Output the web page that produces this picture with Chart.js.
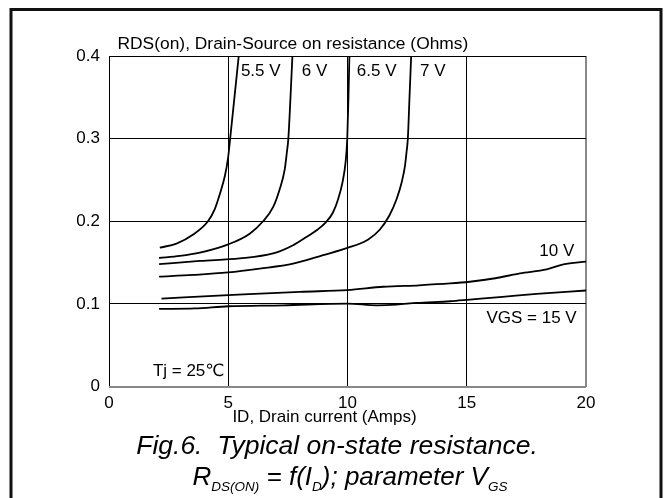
<!DOCTYPE html>
<html><head><meta charset="utf-8">
<script src="https://cdn.jsdelivr.net/npm/chart.js@4.4.1/dist/chart.umd.min.js"></script>
<style>html,body{margin:0;padding:0;background:#fff;}canvas{display:block;}</style>
</head><body>
<canvas id="c" width="665" height="498"></canvas>
<script>
// ---- data ----
const xTicks = [0, 5, 10, 15, 20];
const yTicks = [0, 0.1, 0.2, 0.3, 0.4];

const id_5v5 = [2.13, 2.83, 3.53, 4.15, 4.44, 4.67, 4.86, 4.99, 5.08, 5.26, 5.44];
const rds_5v5 = [0.168, 0.173, 0.184, 0.200, 0.215, 0.235, 0.255, 0.276, 0.300, 0.350, 0.400];

const id_6v = [2.10, 2.97, 3.81, 5.00, 5.90, 6.46, 6.88, 7.16, 7.37, 7.46, 7.52, 7.61, 7.69];
const rds_6v = [0.1555, 0.158, 0.162, 0.172, 0.185, 0.200, 0.217, 0.239, 0.263, 0.284, 0.300, 0.350, 0.400];

const id_6v5 = [2.10, 3.81, 5.48, 6.88, 7.72, 8.28, 8.75, 9.10, 9.38, 9.61, 9.79, 9.92, 9.99, 10.04, 10.08];
const rds_6v5 = [0.148, 0.152, 0.155, 0.161, 0.171, 0.181, 0.190, 0.199, 0.210, 0.227, 0.247, 0.2715, 0.300, 0.350, 0.400];

const id_7v = [2.10, 3.53, 5.00, 6.32, 7.72, 8.98, 10.00, 10.87, 11.36, 11.75, 12.06, 12.27, 12.41, 12.48, 12.53, 12.60, 12.67];
const rds_7v = [0.133, 0.135, 0.138, 0.1426, 0.1486, 0.159, 0.1677, 0.178, 0.190, 0.2066, 0.227, 0.247, 0.267, 0.285, 0.300, 0.350, 0.400];

const id_10v = [2.20, 5.00, 8.00, 10.00, 11.50, 13.00, 14.30, 15.13, 16.20, 17.23, 18.35, 19.05, 20.00];
const rds_10v = [0.1064, 0.1105, 0.1146, 0.1166, 0.1207, 0.1225, 0.1247, 0.1268, 0.131, 0.1369, 0.1417, 0.1478, 0.1511];

const id_15v = [2.10, 3.60, 5.00, 7.30, 10.00, 11.22, 12.06, 12.90, 14.30, 15.13, 16.50, 17.93, 20.00];
const rds_15v = [0.0939, 0.0945, 0.0971, 0.0983, 0.1004, 0.0983, 0.0991, 0.1012, 0.1032, 0.1052, 0.1085, 0.1121, 0.1162];

const curveNames = ['5.5 V', '6 V', '6.5 V', '7 V', '10 V', 'VGS = 15 V'];
const curveX = [id_5v5, id_6v, id_6v5, id_7v, id_10v, id_15v];
const curveY = [rds_5v5, rds_6v, rds_6v5, rds_7v, rds_10v, rds_15v];

// labels placed in data coordinates
const labelText = ['5.5 V', '6 V', '6.5 V', '7 V', '10 V', 'VGS = 15 V', 'Tj = 25\u2103'];
const labelX = [5.53, 8.08, 10.39, 13.04, 19.51, 19.61, 1.84];
const labelY = [0.383, 0.383, 0.383, 0.383, 0.165, 0.0837, 0.0201];
const labelAlign = ['left', 'left', 'left', 'left', 'right', 'right', 'left'];

const yTitle = 'RDS(on), Drain-Source on resistance (Ohms)';
const xTitle = 'ID, Drain current (Amps)';
const caption1 = 'Fig.6.  Typical on-state resistance.';

// ---- chart ----
const FONT = "'Liberation Sans', Arial, 'DejaVu Sans', 'Noto Sans CJK SC', sans-serif";

const datasets = curveNames.map((n, i) => ({
  label: n,
  data: curveX[i].map((x, j) => ({x: x, y: curveY[i][j]})),
  borderColor: '#000',
  borderWidth: 1.8,
  pointRadius: 0,
  fill: false,
  cubicInterpolationMode: 'monotone'
}));

const decor = {
  id: 'decor',
  beforeDraw(chart) {
    const c = chart.ctx;
    c.save();
    c.fillStyle = '#fff';
    c.fillRect(0, 0, chart.width, chart.height);
    c.restore();
  },
  afterDraw(chart) {
    const c = chart.ctx, xs = chart.scales.x, ys = chart.scales.y, a = chart.chartArea;
    c.save();
    // outer frame
    c.strokeStyle = '#111';
    c.lineWidth = 3;
    c.strokeRect(11, 9.5, 650, 520);

    c.fillStyle = '#000';
    c.font = '17px ' + FONT;
    c.textBaseline = 'alphabetic';
    // curve labels
    for (let i = 0; i < labelText.length; i++) {
      c.textAlign = labelAlign[i];
      c.fillText(labelText[i], xs.getPixelForValue(labelX[i]), ys.getPixelForValue(labelY[i]) + 6);
    }
    // axis titles
    c.textAlign = 'center';
    c.fillText(xTitle, a.left + 215.5, a.bottom + 35.5);
    c.font = '17.4px ' + FONT;
    c.textAlign = 'left';
    c.fillText(yTitle, a.left + 8.5, a.top - 7);

    // caption
    c.font = 'italic 26.5px ' + FONT;
    c.textAlign = 'center';
    c.fillText(caption1, 337, 454);

    const big = 26, small = 13.5;
    const parts = [
      ['R', big, 0], ['DS(ON)', small, 6], [' = f(I', big, 0], ['D', small, 6],
      ['); parameter V', big, 0], ['GS', small, 6]
    ];
    let total = 0;
    parts.forEach(p => { c.font = 'italic ' + p[1] + 'px ' + FONT; total += c.measureText(p[0]).width; });
    let x = 350 - total / 2;
    c.textAlign = 'left';
    parts.forEach(p => {
      c.font = 'italic ' + p[1] + 'px ' + FONT;
      c.fillText(p[0], x, 485 + p[2]);
      x += c.measureText(p[0]).width;
    });
    c.restore();
  }
};

new Chart(document.getElementById('c'), {
  type: 'line',
  data: {datasets: datasets},
  options: {
    responsive: false,
    animation: false,
    devicePixelRatio: 1,
    layout: {padding: {left: 0, right: 79, top: 56, bottom: 81.5}},
    plugins: {legend: {display: false}, tooltip: {enabled: false}},
    scales: {
      x: {
        type: 'linear', min: 0, max: 20,
        afterBuildTicks: s => { s.ticks = xTicks.map(v => ({value: v})); },
        afterFit: s => { s.height = 30; },
        ticks: {color: '#000', font: {family: FONT, size: 17}, padding: 7, maxRotation: 0, callback: v => String(v)},
        grid: {
          drawTicks: false,
          color: ctx => (ctx.tick && ctx.tick.value === 20) ? '#888' : '#000',
          lineWidth: ctx => (ctx.tick && ctx.tick.value === 20) ? 2 : 1
        },
        border: {display: false}
      },
      y: {
        type: 'linear', min: 0, max: 0.4,
        afterBuildTicks: s => { s.ticks = yTicks.map(v => ({value: v})); },
        afterFit: s => { s.width = 109; },
        ticks: {color: '#000', font: {family: FONT, size: 17}, padding: 9, callback: v => v === 0 ? '0' : v.toFixed(1)},
        grid: {
          drawTicks: false,
          color: ctx => (ctx.tick && ctx.tick.value === 0) ? '#888' : '#000',
          lineWidth: ctx => (ctx.tick && ctx.tick.value === 0) ? 2 : 1
        },
        border: {display: false}
      }
    }
  },
  plugins: [decor]
});
</script>
</body></html>
